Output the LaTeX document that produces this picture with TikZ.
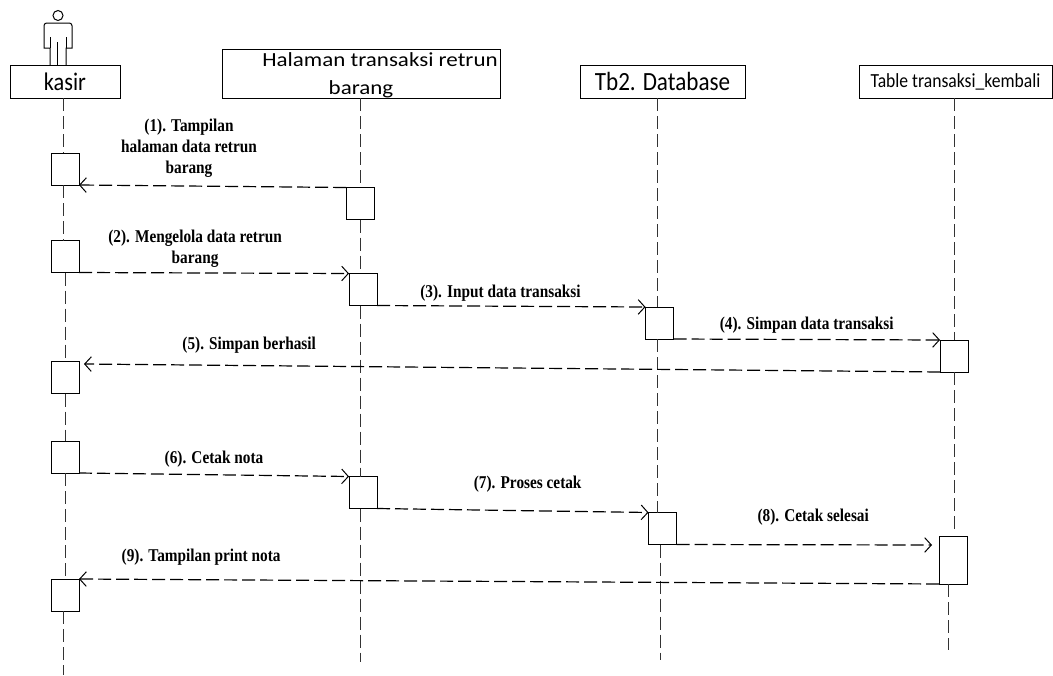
\documentclass[tikz,border=0pt]{standalone}
\usepackage{fontspec}
\setmainfont[FakeStretch=0.85]{Liberation Serif}
\newfontfamily\headfont[FakeStretch=0.88]{Carlito}
\newfontfamily\wideheadfont[FakeStretch=1.15]{Carlito}
\usetikzlibrary{positioning,calc,arrows.meta}

\begin{document}
\begin{tikzpicture}[
        x=0.75pt, y=-0.75pt,
        line width=0.75pt,
        head/.style={draw, align=center, inner sep=0pt, outer sep=0pt, minimum height=24.75pt, font=\fontsize{19}{21}\headfont},
        act/.style={draw, fill=white, inner sep=0pt, outer sep=0pt, minimum width=21pt, minimum height=24pt},
        life/.style={draw=black!80, dash pattern=on 9.75pt off 3.75pt},
        msg/.style={draw=black, line width=0.9pt, dash pattern=on 9.75pt off 3.75pt, -{Straight Barb[length=5pt,width=11pt,line width=0.75pt]}},
        msgtag/.style={above=#1, align=center, inner sep=0pt, font=\fontsize{13.5}{15.8}\bfseries}
      ]
      \useasboundingbox (0,0) rectangle (1053,675);

      % lifeline positions
      \coordinate (KA) at (63,98);
      \coordinate (KB) at (65,98);
      \coordinate (HA) at (360,98);
      \coordinate (TA) at (657,98);
      \coordinate (TB) at (660,98);
      \coordinate (DA) at (954,98);
      \coordinate (DB) at (948,98);
      \coordinate (KE) at (63,675);
      \coordinate (HE) at (360,662);
      \coordinate (TE) at (660,660);
      \coordinate (DC) at (954,530);
      \coordinate (DE) at (948,650);

      % headers
      \node (kasir) at (65,81.5) [head, minimum width=82.5pt] {kasir};
      \node (page) at (361,73.5) [head, minimum width=208.5pt, minimum height=36.75pt, font=\fontsize{15}{20.7}\wideheadfont] {\hspace*{28.5pt}\raisebox{-5.4pt}[0pt][0pt]{Halaman transaksi retrun}\\\raisebox{-5.4pt}[0pt][0pt]{barang}};
      \node (tb) at (662.5,81.5) [head, minimum width=123.75pt, font=\fontsize{19.7}{21}\headfont] {Tb2. Database};
      \node (table) at (955.5,81.5) [head, minimum width=144.75pt, font=\fontsize{15}{15}\headfont] {Table transaksi\_kembali};

      % actor
      \node (man) at (58,15.5) [draw, circle, inner sep=0pt, minimum size=7.5pt] {};
      \draw (50,65) -- (50,48) -- (44,48) [rounded corners=2pt] -- (44,23) -- (72,23) [sharp corners] -- (72,48) -- (66,48) -- (66,65);
      \draw (50,37) -- (50,48) (66,37) -- (66,48) (57,42) -- (57,65);

      % activation boxes
      \node (K1) at (65,169) [act] {};
      \node (K2) at (65,256.5) [act] {};
      \node (K3) at (65,377.5) [act] {};
      \node (K4) at (65,457) [act] {};
      \node (K5) at (65,595) [act] {};
      \node (H1) at (360,203.5) [act] {};
      \node (H2) at (363,289.5) [act] {};
      \node (H3) at (363,492.5) [act] {};
      \node (T1) at (659.5,323) [act] {};
      \node (T2) at (662.5,528.5) [act] {};
      \node (D1) at (954,356) [act] {};
      \node (D2) at (953,560) [act, minimum height=36pt] {};

      % lifelines
      \path[life]
        (KA) edge (KA |- K1.north)
        (KA |- K1.south) edge (KA |- K2.north)
        (KB |- K2.south) edge (KB |- K3.north)
        (KB |- K3.south) edge (KB |- K4.north)
        (KB |- K4.south) edge (KB |- K5.north)
        (KA |- K5.south) edge (KE)
        (HA) edge (HA |- H1.north)
        (HA |- H1.south) edge (HA |- H2.north)
        (HA |- H2.south) edge (HA |- H3.north)
        (HA |- H3.south) edge (HE)
        (TA) edge (TA |- T1.north)
        (TA |- T1.south) edge (TA |- T2.north)
        (TB |- T2.south) edge (TE)
        (DA) edge (DA |- D1.north)
        (DA |- D1.south) edge (DC)
        (DB |- D2.south) edge (DE);

      % messages
      \coordinate (K3in) at (84,364);
      \coordinate (D2in) at (932,545);
      \path
        (H1.north west) edge[msg] node[pos=.588, msgtag=6pt] {(1). Tampilan\\halaman data retrun\\barang} (K1.south east)
        (K2.south east) edge[msg] node[pos=.43, msgtag=3.5pt] {(2). Mengelola data retrun\\barang} (H2.north west)
        (H2.south east) edge[msg] node[pos=.46, msgtag=3pt] {(3). Input data transaksi} (T1.north west)
        (T1.south east) edge[msg] node[pos=.50, msgtag=4pt] {(4). Simpan data transaksi} (D1.north west)
        (D1.south west) edge[msg] node[pos=.807, msgtag=9pt] {(5). Simpan berhasil} (K3in)
        (K4.south east) edge[msg] node[pos=.50, msgtag=5pt] {(6). Cetak nota} (H3.north west)
        (H3.south east) edge[msg] node[pos=.555, msgtag=13pt] {(7). Proses cetak} (T2.north west)
        (T2.south east) edge[msg] node[pos=.535, msgtag=14pt] {(8). Cetak selesai} (D2in)
        (D2.south west) edge[msg] node[pos=.858, msgtag=10.5pt] {(9). Tampilan print nota} (K5.north east);
    \end{tikzpicture}
\end{document}
